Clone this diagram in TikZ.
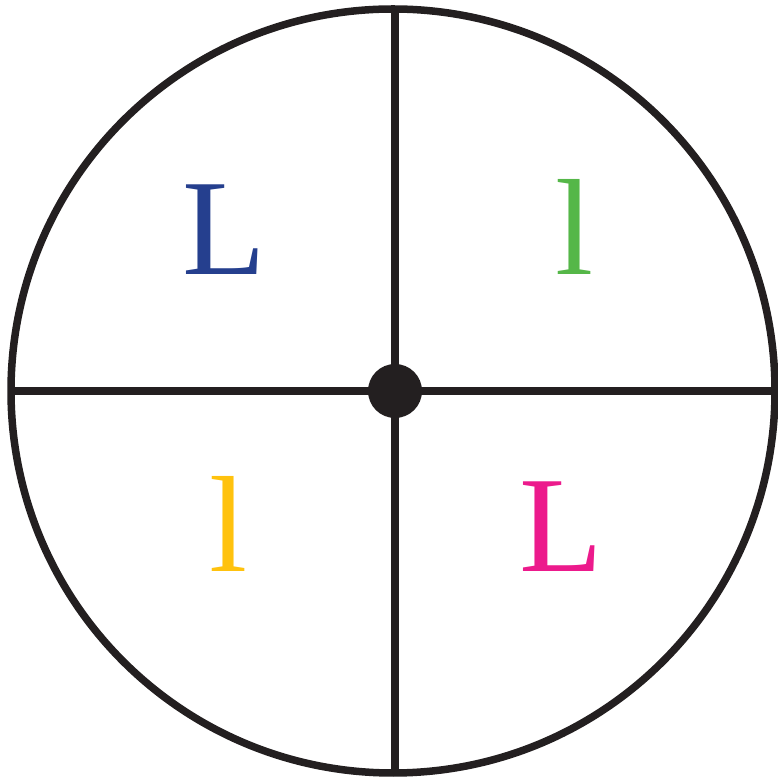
\documentclass[tikz,border=0pt]{standalone}
\usepackage{fontspec}
\setmainfont{Liberation Serif}
\definecolor{ink}{HTML}{231F20}
\definecolor{lblue}{HTML}{253F8E}
\definecolor{lgreen}{HTML}{55B748}
\definecolor{lorange}{HTML}{FFC20E}
\definecolor{lpink}{HTML}{EC1A8C}
\begin{document}
\begin{tikzpicture}[x=1pt,y=1pt,
  rim/.style={draw=ink,line width=7.5pt},
  letter/.style={anchor=base,inner sep=0pt,font=\fontsize{137}{137}\selectfont}]
\useasboundingbox (0,0) rectangle (777,781);
\coordinate (c) at (393,390);
\coordinate (top) at (395,772);
\coordinate (bot) at (395,8);
\coordinate (lft) at (11,390);
\coordinate (rgt) at (775,390);
\draw[rim] (c) circle[radius=382];
\draw[rim] (top) -- (bot);
\draw[rim] (lft) -- (rgt);
\fill[ink] (395,390) circle[radius=27];
\node[letter,text=lblue] (a) at (224,506) {L};
\node[letter,text=lgreen] (b) at (575,506) {l};
\node[letter,text=lorange] (d) at (229,209) {l};
\node[letter,text=lpink] (e) at (561,209) {L};
\end{tikzpicture}
\end{document}
